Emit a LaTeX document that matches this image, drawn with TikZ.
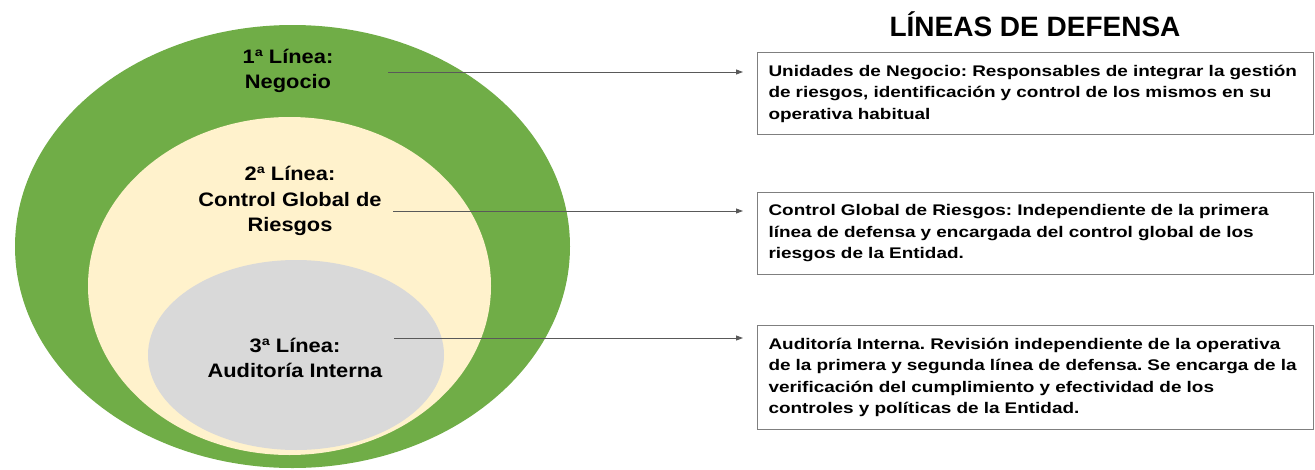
\documentclass[tikz,border=0pt]{standalone}
\usepackage{fontspec}
\setmainfont{Liberation Sans}
\newfontfamily\lblfont{Liberation Sans}[FakeStretch=1.12]
\newfontfamily\boxfont{Liberation Sans}[FakeStretch=1.23]
\usetikzlibrary{shapes.geometric,arrows.meta}
\definecolor{verde}{HTML}{70AD47}
\definecolor{crema}{HTML}{FFF2CC}
\definecolor{gris}{HTML}{D9D9D9}
\definecolor{flecha}{HTML}{595959}
\definecolor{borde}{HTML}{7F7F7F}
\frenchspacing

\begin{document}
\begin{tikzpicture}[x=1pt, y=-1pt, ring/.style={ellipse, inner sep=0pt}, linelabel/.style={align=center, inner sep=0pt, font=\lblfont\bfseries\fontsize{19.5}{25.5}\selectfont}, infobox/.style={rectangle, draw=borde, line width=1pt, anchor=north west, text width=534pt, inner xsep=11pt, minimum height=82pt, align=left, font=\boxfont\bfseries\fontsize{15.4}{21.5}\selectfont}, link/.style={draw=flecha, line width=0.9pt, -{Triangle[length=7pt,width=5pt]}, shorten >=14pt}]
  {
  \useasboundingbox (0,0) rectangle (1315,469);
  \node[ring, fill=verde, minimum width=555pt, minimum height=443pt] (first) at (292.5,246.5) {};
  \node[ring, fill=crema, minimum width=403pt, minimum height=338pt] (second) at (289.5,286) {};
  \node[ring, fill=gris, minimum width=296pt, minimum height=190pt] (third) at (296,355) {};

  \node[linelabel] (lbl1) at (288,71) {1ª Línea:\\Negocio};
  \node[linelabel] (lbl2) at (290,201) {2ª Línea:\\Control Global de\\Riesgos};
  \node[linelabel] (lbl3) at (295,358) {3ª Línea:\\Auditoría Interna};

  \node[font=\bfseries\fontsize{28}{34}\selectfont, inner sep=0pt] (title) at (1035,24) {LÍNEAS DE DEFENSA};

  \node[infobox] (box1) at (757,52) {Unidades de Negocio: Responsables de integrar la gestión\\de riesgos, identificación y control de los mismos en su\\operativa habitual};
  \node[infobox] (box2) at (757,192) {Control Global de Riesgos: Independiente de la primera\\línea de defensa y encargada del control global de los\\riesgos de la Entidad.};
  \node[infobox, minimum height=104pt] (box3) at (757,325) {Auditoría Interna. Revisión independiente de la operativa\\de la primera y segunda línea de defensa. Se encarga de la\\verificación del cumplimiento y efectividad de los\\controles y políticas de la Entidad.};

  \coordinate (from1) at (388,72);
  \coordinate (from2) at (393,211);
  \coordinate (from3) at (394,338);
  \draw[link] (from1) -- (box1.west |- from1);
  \draw[link] (from2) -- (box2.west |- from2);
  \draw[link] (from3) -- (box3.west |- from3);
}
\end{tikzpicture}
\end{document}
